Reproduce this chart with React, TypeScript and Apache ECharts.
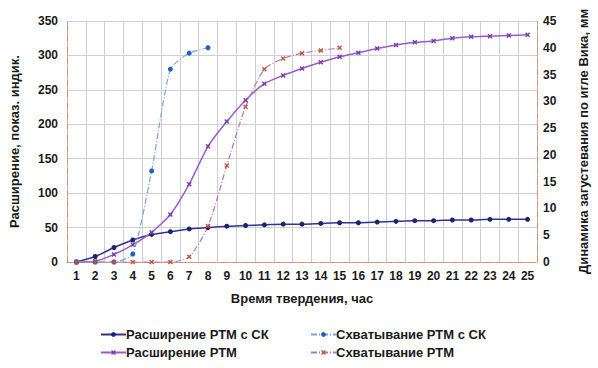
import React, { useEffect, useRef } from "react";
import * as echarts from "echarts";

const hours = ["1","2","3","4","5","6","7","8","9","10","11","12","13","14","15","16","17","18","19","20","21","22","23","24","25"];
const expansionRtmSk = [0, 8, 21, 32, 40, 44, 48, 50, 52, 53, 54, 55, 55, 56, 57, 57, 58, 59, 60, 60, 61, 61, 62, 62, 62];
const expansionRtm = [0, 1, 11, 25, 43, 69, 113, 168, 204, 235, 259, 271, 281, 290, 298, 304, 310, 315, 319, 321, 325, 327, 328, 329, 330];
const settingRtmSk = [0, 0, 0, 1.5, 17, 36, 39, 40];
const settingRtm = [0, 0, 0, 0, 0, 0, 1, 6.7, 18, 29, 36, 38, 39, 39.5, 40];

const leftTicks = { min: 0, max: 350, interval: 50 };
const rightTicks = { min: 0, max: 45, interval: 5 };

const FONT = "'Liberation Sans', Arial, sans-serif";
const X_SYMBOL = "path://M0,2 L2,0 L5,3 L8,0 L10,2 L7,5 L10,8 L8,10 L5,7 L2,10 L0,8 L3,5 Z";
const frame = { color: "#c9907e", type: [6, 2, 1, 2] as number[], width: 1 };

export default function App() {
  const ref = useRef<HTMLDivElement>(null);
  useEffect(() => {
    document.body.style.margin = "0";
    const chart = echarts.init(ref.current!, null, { renderer: "svg" });
    const labelStyle = { fontFamily: FONT, fontWeight: "bold" as const, fontSize: 13, color: "#1a1a1a" };
    const legendBase = {
      top: 328, orient: "vertical", itemGap: 5, itemWidth: 25, itemHeight: 6, padding: 0,
      height: 40,
      textStyle: { ...labelStyle, fontSize: 13, padding: [0, 0, 0, -5] },
    };
    chart.setOption({
      animation: false,
      backgroundColor: "#ffffff",
      grid: { left: 65, right: 53, top: 21, bottom: 106, show: false },
      legend: [
        { ...legendBase, left: 100, data: ["Расширение РТМ с СК", "Расширение РТМ"] },
        { ...legendBase, left: 310, data: ["Схватывание РТМ с СК", "Схватывание РТМ"] },
      ],
      xAxis: [
        {
          type: "category",
          data: hours,
          boundaryGap: true,
          name: "Время твердения, час",
          nameLocation: "middle",
          nameGap: 30,
          nameTextStyle: { ...labelStyle, fontSize: 13 },
          axisLine: { lineStyle: frame },
          axisTick: { show: false },
          axisLabel: { ...labelStyle, fontSize: 12, margin: 8, interval: 0 },
          splitLine: { show: true, interval: 0, lineStyle: { color: "#cfcfcf", width: 1 } },
        },
        {
          type: "category",
          data: hours,
          position: "top",
          boundaryGap: true,
          axisLine: { show: true, lineStyle: frame },
          axisTick: { show: false },
          axisLabel: { show: false },
          splitLine: { show: false },
        },
      ],
      yAxis: [
        {
          type: "value",
          ...leftTicks,
          name: "Расширение, показ. индик.",
          nameLocation: "middle",
          nameRotate: 90,
          nameGap: 46,
          nameTextStyle: { ...labelStyle, fontSize: 13 },
          axisLine: { show: true, lineStyle: frame },
          axisTick: { show: false },
          axisLabel: { ...labelStyle, fontSize: 12, margin: 9 },
          splitLine: { show: true, lineStyle: { color: "#d0d0d0", width: 1 } },
        },
        {
          type: "value",
          ...rightTicks,
          position: "right",
          name: "Динамика загустевания по игле Вика, мм",
          nameLocation: "middle",
          nameRotate: 90,
          nameGap: 40,
          nameTextStyle: { ...labelStyle, fontSize: 13 },
          axisLine: { show: true, lineStyle: frame },
          axisTick: { show: false },
          axisLabel: { ...labelStyle, fontSize: 12, margin: 6 },
          splitLine: { show: false },
        },
      ],
      series: [
        {
          name: "Расширение РТМ с СК",
          type: "line",
          yAxisIndex: 0,
          data: expansionRtmSk,
          smooth: 0.25,
          symbol: "circle",
          symbolSize: 5,
          lineStyle: { color: "#30348c", width: 1.5 },
          itemStyle: { color: "#1b2370" },
        },
        {
          name: "Расширение РТМ",
          type: "line",
          yAxisIndex: 0,
          data: expansionRtm,
          smooth: 0.2,
          symbol: X_SYMBOL,
          symbolSize: 5,
          lineStyle: { color: "#9a5cc8", width: 1.5 },
          itemStyle: { color: "#7a3ab0" },
        },
        {
          name: "Схватывание РТМ с СК",
          type: "line",
          yAxisIndex: 1,
          data: settingRtmSk,
          smooth: 0.2,
          symbol: "circle",
          symbolSize: 5,
          lineStyle: { color: "#7aa4dc", width: 1.2, type: [6, 2, 1, 2] },
          itemStyle: { color: "#1f5fc8" },
        },
        {
          name: "Схватывание РТМ",
          type: "line",
          yAxisIndex: 1,
          data: settingRtm,
          smooth: 0.25,
          symbol: X_SYMBOL,
          symbolSize: 5,
          lineStyle: { color: "#a57cc6", width: 1.2, type: [6, 2, 1, 2] },
          itemStyle: { color: "#c4553a" },
        },
      ],
    });
    return () => chart.dispose();
  }, []);
  return <div ref={ref} style={{ width: 598, height: 368 }} />;
}
